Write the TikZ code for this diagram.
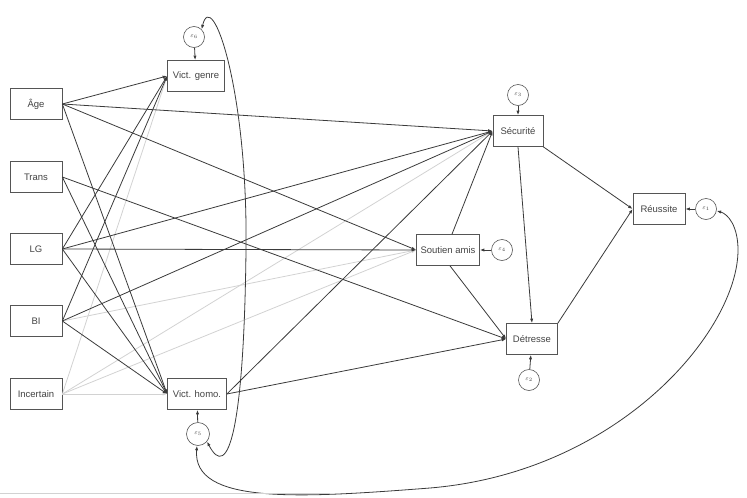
\documentclass[tikz,border=0pt]{standalone}
\usepackage{fontspec}
\setmainfont{Liberation Sans}
\usetikzlibrary{arrows.meta}
\definecolor{darkc}{HTML}{3A3A3A}
\definecolor{lightc}{HTML}{D2D2D2}
\definecolor{boxc}{HTML}{555555}
\definecolor{txtc}{HTML}{444444}
\begin{document}
\begin{tikzpicture}[x=1pt,y=-1pt,
  box/.style={draw=boxc, line width=0.7pt, fill=white, minimum height=31pt, inner sep=0pt, font=\fontsize{9.5}{11}\selectfont, text=txtc},
  err/.style={circle, draw=boxc, line width=0.6pt, fill=white, minimum size=21pt, inner sep=0pt, font=\fontsize{6}{7}\selectfont, text=txtc},
  tip/.tip={Latex[length=4.5pt,width=3.2pt]},
  darkpath/.style={draw=darkc, line width=0.8pt, -tip},
  graypath/.style={draw=lightc, line width=0.8pt, -tip},
  covpath/.style={draw=darkc, line width=0.8pt, tip-tip}]
\useasboundingbox (0,0) rectangle (747,498);
% nodes
\node[box, minimum width=52pt] (age) at (36,104) {Âge};
\node[box, minimum width=52pt] (trans) at (36,177) {Trans};
\node[box, minimum width=52pt] (lg) at (36,249) {LG};
\node[box, minimum width=52pt] (bi) at (36,321) {BI};
\node[box, minimum width=52pt] (inc) at (36,394) {Incertain};
\node[box, minimum width=57pt] (vg) at (196,76) {Vict. genre};
\node[box, minimum width=59pt] (vh) at (197,394) {Vict. homo.};
\node[box, minimum width=50pt] (sec) at (518,131) {Sécurité};
\node[box, minimum width=63pt] (sa) at (448,250) {Soutien amis};
\node[box, minimum width=51pt] (det) at (532,339) {Détresse};
\node[box, minimum width=52pt] (reu) at (659,209) {Réussite};
\node[err] (e6) at (194,37) {$\varepsilon_6$};
\node[err, minimum size=23pt] (e5) at (198,434) {$\varepsilon_5$};
\node[err] (e3) at (518,95) {$\varepsilon_3$};
\node[err] (e4) at (502,250) {$\varepsilon_4$};
\node[err] (e2) at (529,380) {$\varepsilon_2$};
\node[err] (e1) at (706,209) {$\varepsilon_1$};
% gray paths (Incertain, BI)
\draw[graypath] (inc.east) -- (vg.west);
\draw[graypath] (inc.east) -- (sec.west);
\draw[graypath] (inc.east) -- (sa.west);
\draw[graypath] (inc.east) -- (vh.west);
\draw[graypath] (bi.east) -- (sa.west);
% dark paths
\draw[darkpath] (age.east) -- (vg.west);
\draw[darkpath] (age.east) -- (sec.west);
\draw[darkpath] (age.east) -- (sa.west);
\draw[darkpath] (age.east) -- (vh.west);
\draw[darkpath] (trans.east) -- (det.west);
\draw[darkpath] (trans.east) -- (vh.west);
\draw[darkpath] (lg.east) -- (vg.west);
\draw[darkpath] (lg.east) -- (sec.west);
\draw[darkpath] (lg.east) -- (sa.west);
\draw[darkpath] (lg.east) -- (vh.west);
\draw[darkpath] (bi.east) -- (vg.west);
\draw[darkpath] (bi.east) -- (sec.west);
\draw[darkpath] (bi.east) -- (vh.west);
\draw[darkpath] (vh.east) -- (sec.west);
\draw[darkpath] (vh.east) -- (det.west);
\coordinate (sat) at ([xshift=4pt]sa.north);
\coordinate (sab) at ([xshift=2pt]sa.south);
\draw[darkpath] (sat) -- (sec.west);
\draw[darkpath] (sab) -- (det.west);
\draw[darkpath] (sec.south) -- (det.north);
\draw[darkpath] (sec.south east) -- (reu.west);
\draw[darkpath] (det.north east) -- (reu.west);
% error arrows
\draw[darkpath] (e6) -- (vg);
\draw[darkpath] (e5) -- (vh);
\draw[darkpath] (e3) -- (sec);
\draw[darkpath] (e4) -- (sa);
\draw[darkpath] (e2) -- (det);
\draw[darkpath] (e1) -- (reu);
% covariances
\draw[covpath] (e6.45) .. controls (212,-14) and (248,90) .. (246,250)
  .. controls (244,430) and (228,482) .. (e5.-40);
\draw[covpath] (e5.-95) .. controls (192,505) and (300,498) .. (430,488)
  .. controls (620,472) and (738,330) .. (738,250)
  .. controls (738,226) and (728,214) .. (e1.-10);
% faint bottom rule
\draw[draw=lightc, line width=0.5pt] (0,493) -- (330,493);
\end{tikzpicture}
\end{document}
